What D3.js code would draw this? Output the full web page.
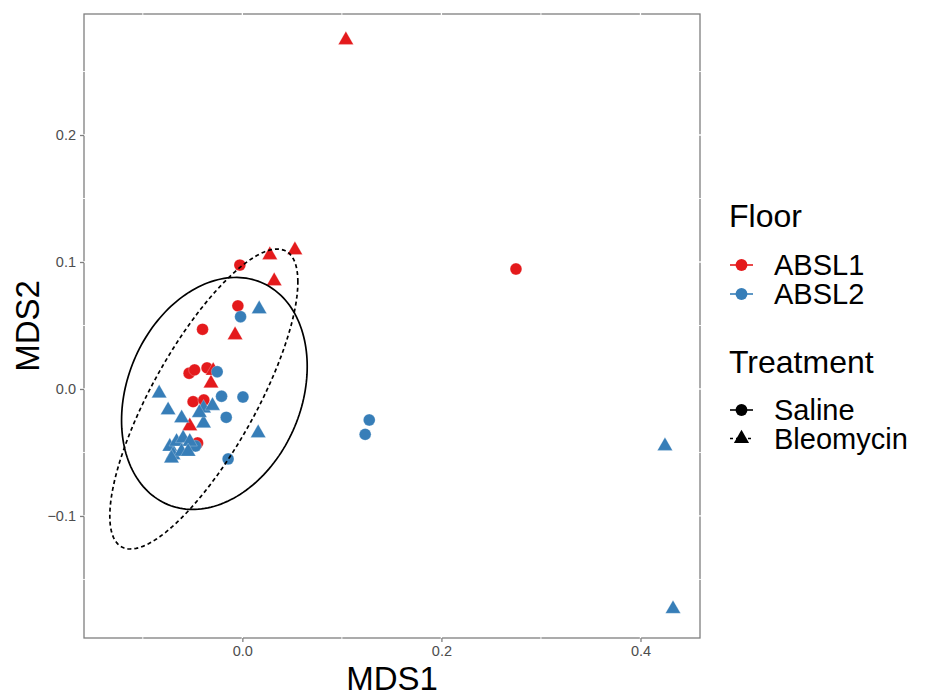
<!DOCTYPE html>
<html>
<head>
<meta charset="utf-8">
<script src="https://cdn.jsdelivr.net/npm/d3@7"></script>
<style>
  html, body { margin: 0; padding: 0; background: #ffffff; }
  svg { display: block; font-family: "Liberation Sans", Arial, Helvetica, sans-serif; }
</style>
</head>
<body>
<svg id="chart" width="930" height="696"></svg>
<script>
// ---------------- data ----------------
const mds1 = [
  // ABSL1 Saline
  -0.0025, -0.0045, -0.040, -0.0535, -0.048, -0.0355, -0.0495, -0.0387, -0.045, 0.2749,
  // ABSL1 Bleomycin
  0.104, 0.0276, 0.0528, 0.032, -0.0073, -0.0315, -0.0528, -0.0293,
  // ABSL2 Saline
  -0.0018, -0.0253, -0.0209, 0.0006, -0.0162, -0.0143, -0.0470, 0.1275, 0.1234,
  // ABSL2 Bleomycin
  0.0169, -0.0836, -0.0746, -0.061, 0.0159, -0.039, -0.039, -0.030, -0.0432,
  -0.0729, -0.0661, -0.0595, -0.0528, -0.0696, -0.0611, -0.0545, -0.0712,
  0.4246, 0.4327
];
const mds2 = [
  0.0976, 0.0655, 0.047, 0.0124, 0.015, 0.0166, -0.010, -0.0087, -0.0425, 0.0945,
  0.2748, 0.1055, 0.1094, 0.085, 0.0425, 0.0045, -0.0293, 0.0144,
  0.0569, 0.0136, -0.0057, -0.0063, -0.0223, -0.0551, -0.0449, -0.0244, -0.0357,
  0.0629, -0.0034, -0.0167, -0.023, -0.0347, -0.027, -0.0152, -0.0132, -0.0188,
  -0.0454, -0.0415, -0.0388, -0.0415, -0.0520, -0.0494, -0.0494, -0.0546,
  -0.0449, -0.1732
];
const floorGroup = [
  "ABSL1","ABSL1","ABSL1","ABSL1","ABSL1","ABSL1","ABSL1","ABSL1","ABSL1","ABSL1",
  "ABSL1","ABSL1","ABSL1","ABSL1","ABSL1","ABSL1","ABSL1","ABSL1",
  "ABSL2","ABSL2","ABSL2","ABSL2","ABSL2","ABSL2","ABSL2","ABSL2","ABSL2",
  "ABSL2","ABSL2","ABSL2","ABSL2","ABSL2","ABSL2","ABSL2","ABSL2","ABSL2",
  "ABSL2","ABSL2","ABSL2","ABSL2","ABSL2","ABSL2","ABSL2","ABSL2",
  "ABSL2","ABSL2"
];
const treatment = [
  "Saline","Saline","Saline","Saline","Saline","Saline","Saline","Saline","Saline","Saline",
  "Bleomycin","Bleomycin","Bleomycin","Bleomycin","Bleomycin","Bleomycin","Bleomycin","Bleomycin",
  "Saline","Saline","Saline","Saline","Saline","Saline","Saline","Saline","Saline",
  "Bleomycin","Bleomycin","Bleomycin","Bleomycin","Bleomycin","Bleomycin","Bleomycin","Bleomycin","Bleomycin",
  "Bleomycin","Bleomycin","Bleomycin","Bleomycin","Bleomycin","Bleomycin","Bleomycin","Bleomycin",
  "Bleomycin","Bleomycin"
];

const floorLevels = ["ABSL1", "ABSL2"];
const floorColors = ["#E41A1C", "#377EB8"];
const treatmentLevels = ["Saline", "Bleomycin"];

// ellipse (stat_ellipse) parameters per treatment, in data units
const ellipseGroups = ["Saline", "Bleomycin"];
const ellipseCenterX = [-0.0281, -0.0387];
const ellipseCenterY = [-0.0035, -0.0079];
const ellipseVarX = [0.0086987, 0.008925];
const ellipseVarY = [0.0083428, 0.01395];
const ellipseCovXY = [0.0019784, 0.008705];

const xMajorTicks = [0.0, 0.2, 0.4];
const xMinorTicks = [-0.1, 0.1, 0.3];
const yMajorTicks = [-0.1, 0.0, 0.1, 0.2];
const yMinorTicks = [-0.15, -0.05, 0.05, 0.15, 0.25];
const xDomain = [-0.1591, 0.4598];
const yDomain = [-0.1961, 0.2953];

// ---------------- layout ----------------
const svg = d3.select("#chart");
const panel = { left: 84, right: 700, top: 14, bottom: 638 };

const x = d3.scaleLinear().domain(xDomain).range([panel.left, panel.right]);
const y = d3.scaleLinear().domain(yDomain).range([panel.bottom, panel.top]);
const color = d3.scaleOrdinal().domain(floorLevels).range(floorColors);
const shape = d3.scaleOrdinal().domain(treatmentLevels).range([d3.symbolCircle, d3.symbolTriangle]);
const shapeSize = d3.scaleOrdinal().domain(treatmentLevels).range([110, 100]);
const dash = d3.scaleOrdinal().domain(treatmentLevels).range([null, "4,3"]);

const data = mds1.map((v, i) => ({ x: v, y: mds2[i], floor: floorGroup[i], trt: treatment[i] }));

// panel background
svg.append("rect")
  .attr("x", panel.left).attr("y", panel.top)
  .attr("width", panel.right - panel.left).attr("height", panel.bottom - panel.top)
  .attr("fill", "#ffffff")
  .attr("stroke", "#7f7f7f").attr("stroke-width", 1.3);

// grid lines (white, they cut through the border)
const grid = svg.append("g");
grid.selectAll("line.xmin").data(xMinorTicks).join("line")
  .attr("x1", d => x(d)).attr("x2", d => x(d))
  .attr("y1", panel.top - 1).attr("y2", panel.bottom + 1)
  .attr("stroke", "#ffffff").attr("stroke-width", 0.9);
grid.selectAll("line.xmaj").data(xMajorTicks).join("line")
  .attr("x1", d => x(d)).attr("x2", d => x(d))
  .attr("y1", panel.top - 1).attr("y2", panel.bottom + 1)
  .attr("stroke", "#ffffff").attr("stroke-width", 1.3);
grid.selectAll("line.ymin").data(yMinorTicks).join("line")
  .attr("y1", d => y(d)).attr("y2", d => y(d))
  .attr("x1", panel.left - 1).attr("x2", panel.right + 1)
  .attr("stroke", "#ffffff").attr("stroke-width", 0.9);
grid.selectAll("line.ymaj").data(yMajorTicks).join("line")
  .attr("y1", d => y(d)).attr("y2", d => y(d))
  .attr("x1", panel.left - 1).attr("x2", panel.right + 1)
  .attr("stroke", "#ffffff").attr("stroke-width", 1.3);

// axes
const fmt = d3.format(".1f");
const xAxis = d3.axisBottom(x).tickValues(xMajorTicks).tickFormat(fmt).tickSize(4).tickPadding(4);
const yAxis = d3.axisLeft(y).tickValues(yMajorTicks).tickFormat(fmt).tickSize(4).tickPadding(4);

const gx = svg.append("g").attr("transform", `translate(0,${panel.bottom})`).call(xAxis);
const gy = svg.append("g").attr("transform", `translate(${panel.left},0)`).call(yAxis);
[gx, gy].forEach(g => {
  g.attr("font-size", null).attr("font-family", null);
  g.select(".domain").remove();
  g.selectAll(".tick line").attr("stroke", "#7f7f7f").attr("stroke-width", 1.3);
  g.selectAll(".tick text").attr("fill", "#4d4d4d")
    .style("font-size", "14.5px")
    .style("font-family", "'Liberation Sans', Arial, sans-serif");
});

// points
svg.append("g").selectAll("path.pt").data(data).join("path")
  .attr("class", "pt")
  .attr("transform", d => `translate(${x(d.x)},${y(d.y)})`)
  .attr("d", d => d3.symbol().type(shape(d.trt)).size(shapeSize(d.trt))())
  .attr("fill", d => color(d.floor))
  .attr("stroke", "#ffffff").attr("stroke-width", 0.4).attr("stroke-opacity", 0.6);

// ellipses (drawn on top)
const thetas = d3.range(0, 361, 2).map(a => a * Math.PI / 180);
const line = d3.line().x(p => x(p[0])).y(p => y(p[1])).curve(d3.curveLinearClosed);
ellipseGroups.forEach((g, i) => {
  const l11 = Math.sqrt(ellipseVarX[i]);
  const l21 = ellipseCovXY[i] / l11;
  const l22 = Math.sqrt(ellipseVarY[i] - l21 * l21);
  const pts = thetas.map(t => [
    ellipseCenterX[i] + l11 * Math.cos(t),
    ellipseCenterY[i] + l21 * Math.cos(t) + l22 * Math.sin(t)
  ]);
  svg.append("path")
    .attr("d", line(pts))
    .attr("fill", "none")
    .attr("stroke", "#000000")
    .attr("stroke-width", 1.7)
    .attr("stroke-dasharray", dash(g));
});

// axis titles
svg.append("text")
  .attr("x", (panel.left + panel.right) / 2).attr("y", 690)
  .attr("text-anchor", "middle")
  .style("font-size", "33px").attr("fill", "#000")
  .text("MDS1");
svg.append("text")
  .attr("transform", `translate(39,${(panel.top + panel.bottom) / 2}) rotate(-90)`)
  .attr("text-anchor", "middle")
  .style("font-size", "33px").attr("fill", "#000")
  .text("MDS2");

// legends
const legend = svg.append("g");
const keyX = 741.5;
const keyHalf = 11.5;
legend.append("text").attr("x", 729).attr("y", 227)
  .style("font-size", "32px").text("Floor");
const floorY = [265, 294];
floorLevels.forEach((f, i) => {
  legend.append("line")
    .attr("x1", keyX - keyHalf).attr("x2", keyX + keyHalf)
    .attr("y1", floorY[i]).attr("y2", floorY[i])
    .attr("stroke", color(f)).attr("stroke-width", 1.6);
  legend.append("path")
    .attr("transform", `translate(${keyX},${floorY[i]})`)
    .attr("d", d3.symbol().type(d3.symbolCircle).size(110)())
    .attr("fill", color(f));
  legend.append("text").attr("x", 774).attr("y", floorY[i] + 10)
    .style("font-size", "29px").text(f);
});

legend.append("text").attr("x", 729).attr("y", 373)
  .style("font-size", "32px").text("Treatment");
const trtY = [410, 438.5];
treatmentLevels.forEach((t, i) => {
  legend.append("line")
    .attr("x1", keyX - keyHalf).attr("x2", keyX + keyHalf)
    .attr("y1", trtY[i]).attr("y2", trtY[i])
    .attr("stroke", "#000").attr("stroke-width", 1.6)
    .attr("stroke-dasharray", t === "Bleomycin" ? "3,3" : null);
  legend.append("path")
    .attr("transform", `translate(${keyX},${trtY[i]})`)
    .attr("d", d3.symbol().type(shape(t)).size(shapeSize(t))())
    .attr("fill", "#000");
  legend.append("text").attr("x", 774).attr("y", trtY[i] + 10)
    .style("font-size", "29px").text(t);
});
</script>
</body>
</html>
